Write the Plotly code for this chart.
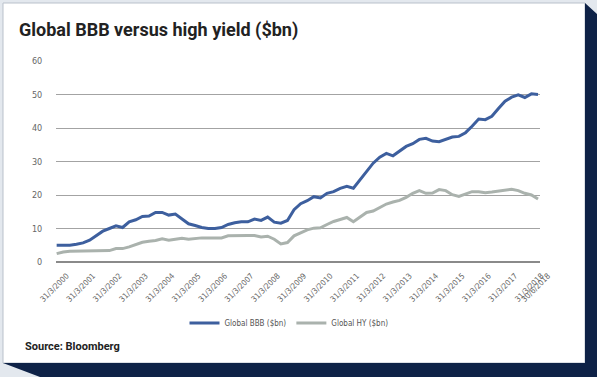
import plotly.graph_objects as go

years = list(range(2000, 2019))
quarter_ends = ["31/3", "30/6", "30/9", "31/12"]
dates = [f"{q}/{y}" for y in years for q in quarter_ends][:74]

tick_dates = [f"31/3/{y}" for y in years] + ["30/6/2018"]

bbb = [5.0, 5.0, 5.0, 5.3, 5.7, 6.5, 7.8, 9.2, 10.0, 10.8,
       10.3, 12.0, 12.6, 13.6, 13.7, 14.8, 14.8, 14.0, 14.3, 12.8,
       11.4, 10.9, 10.3, 10.0, 10.0, 10.3, 11.2, 11.7, 12.0, 12.0,
       12.8, 12.4, 13.4, 11.9, 11.6, 12.4, 15.6, 17.4, 18.3, 19.5,
       19.1, 20.5, 21.0, 22.0, 22.6, 22.0, 24.5, 27.0, 29.5, 31.3,
       32.4, 31.7, 33.0, 34.5, 35.3, 36.6, 36.9, 36.1, 35.9, 36.7,
       37.3, 37.5, 38.6, 40.5, 42.7, 42.5, 43.5, 45.8, 48.0, 49.2,
       49.9, 49.1, 50.2, 50.0]

hy = [2.5, 3.0, 3.2, 3.2, 3.2, 3.2, 3.2, 3.4, 3.4, 4.0,
      4.0, 4.5, 5.2, 5.9, 6.2, 6.4, 6.9, 6.5, 6.8, 7.1,
      6.8, 7.1, 7.2, 7.2, 7.2, 7.2, 7.8, 7.9, 7.9, 7.9,
      7.9, 7.5, 7.7, 6.8, 5.4, 5.8, 7.8, 8.8, 9.6, 10.1,
      10.2, 11.2, 12.1, 12.7, 13.3, 12.0, 13.5, 14.8, 15.2, 16.3,
      17.3, 17.9, 18.4, 19.3, 20.5, 21.3, 20.5, 20.6, 21.6, 21.3,
      20.1, 19.6, 20.2, 21.0, 21.0, 20.7, 20.9, 21.1, 21.4, 21.7,
      21.3, 20.5, 20.0, 18.8]

W, H = 597, 377
L, R, T, B = 56, 57, 61, 115
PW, PH = W - L - R, H - T - B


def X(px):
    return (px - L) / PW


def Y(py):
    return (H - B - py) / PH


fig = go.Figure()
fig.add_trace(go.Scatter(x=dates, y=bbb, mode="lines", name="Global BBB ($bn)",
                         line=dict(color="#3d5f9e", width=3)))
fig.add_trace(go.Scatter(x=dates, y=hy, mode="lines", name="Global HY ($bn)",
                         line=dict(color="#aab2ad", width=3)))

shapes = [
    # white card
    dict(type="rect", xref="paper", yref="paper", x0=X(3), x1=X(585), y0=Y(363), y1=Y(3),
         fillcolor="white", line=dict(color="#b9c1cb", width=1), layer="below"),
    # navy shadow
    dict(type="path", xref="paper", yref="paper",
         path=f"M {X(3)},{Y(363)} L {X(585)},{Y(363)} L {X(585)},{Y(3)} L {X(597)},{Y(14)} "
              f"L {X(597)},{Y(377)} L {X(40)},{Y(377)} Z",
         fillcolor="#0e2247", line=dict(width=0), layer="below"),
]

fig.update_layout(
    width=W, height=H,
    margin=dict(l=L, r=R, t=T, b=B),
    paper_bgcolor="#e3e8ee",
    plot_bgcolor="rgba(0,0,0,0)",
    shapes=shapes,
    showlegend=True,
    legend=dict(orientation="h", x=X(289), xanchor="center", y=Y(323), yanchor="middle",
                font=dict(family="Liberation Sans Narrow, DejaVu Sans Condensed, sans-serif",
                          size=8, color="#555"),
                bgcolor="rgba(0,0,0,0)", itemwidth=30, tracegroupgap=0),
    annotations=[
        dict(text="<b>Global BBB versus high yield ($bn)</b>", xref="paper", yref="paper",
             x=X(17), y=Y(30), xanchor="left", yanchor="middle", showarrow=False,
             font=dict(family="Roboto, sans-serif", size=18, color="#222")),
        dict(text="<b>Source: Bloomberg</b>", xref="paper", yref="paper",
             x=X(23), y=Y(346), xanchor="left", yanchor="middle", showarrow=False,
             font=dict(family="Roboto, sans-serif", size=11, color="#222")),
    ],
)

fig.update_xaxes(
    type="category", categoryorder="array", categoryarray=dates,
    range=[-0.1, 73.3],
    tickmode="array", tickvals=tick_dates, ticktext=tick_dates,
    tickangle=-45, showgrid=False, zeroline=False, showline=False,
    tickfont=dict(family="Liberation Sans Narrow, DejaVu Sans Condensed, sans-serif",
                  size=8, color="#666"),
    ticks="outside", ticklen=5, tickcolor="rgba(0,0,0,0)",
    ticklabelshift=10,
)
fig.update_yaxes(
    range=[0, 60], tickvals=[0, 10, 20, 30, 40, 50, 60],
    showgrid=True, gridcolor="#a3a3a3", gridwidth=1,
    zeroline=True, zerolinecolor="#8a8a8a", zerolinewidth=1.5,
    showline=False,
    tickfont=dict(family="Liberation Sans Narrow, DejaVu Sans Condensed, sans-serif",
                  size=9, color="#666"),
    ticks="outside", ticklen=11, tickcolor="rgba(0,0,0,0)",
)

fig.write_html("out.html", config={"displayModeBar": False},
               post_script="document.body.style.margin='0';document.body.style.padding='0';")
